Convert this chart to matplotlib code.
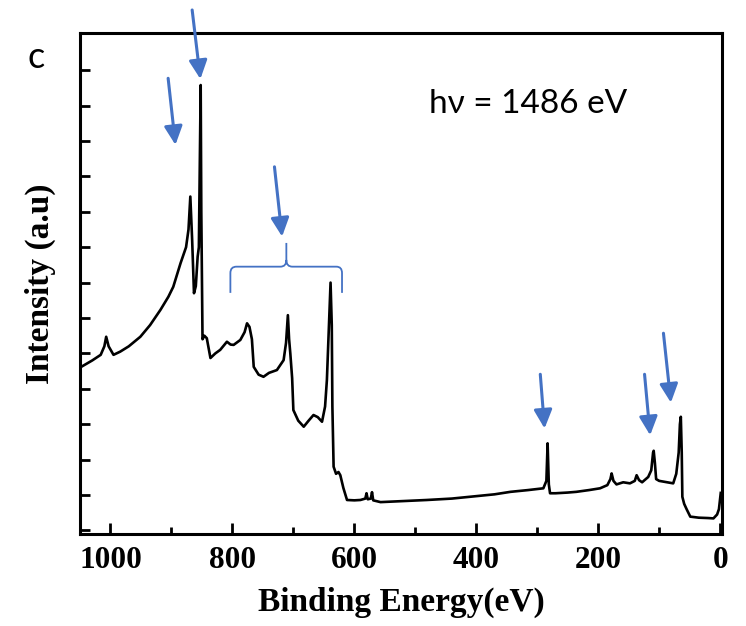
import matplotlib
matplotlib.use("Agg")
import matplotlib.pyplot as plt
from matplotlib.path import Path
from matplotlib.patches import PathPatch

# XPS survey spectrum (binding energy in eV, intensity in arbitrary units)
binding_energy = [1049, 1030, 1016, 1010, 1007, 1003, 995, 984, 970, 951, 935, 918,
                  905, 897, 885, 876, 872, 869, 866, 863, 860, 857, 855, 853, 852,
                  851, 849, 846, 842, 836, 828, 820, 809, 803, 798, 787, 780, 776,
                  772, 768, 765, 757, 749, 740, 727, 716, 712, 709, 707, 705, 702,
                  700, 692, 683, 675, 667, 660, 653, 648, 645, 642, 639, 637, 636,
                  634, 630, 626, 623, 618, 612, 600, 590, 582, 580, 578, 573, 571,
                  569, 557, 520, 481, 440, 399, 370, 344, 315, 290, 285, 283, 281,
                  279, 270, 250, 236, 215, 197, 185, 180, 178, 175, 170, 159, 148,
                  140, 137, 133, 128, 118, 113, 110, 109, 107, 105, 100, 87, 77, 72,
                  68, 66, 64.5, 63, 62, 59, 55, 49, 35, 20, 11, 5, 2, 0, -1]
intensity = [4.61, 4.80, 4.96, 5.20, 5.47, 5.20, 4.96, 5.05, 5.20, 5.47, 5.80, 6.23,
             6.60, 6.88, 7.55, 8.00, 8.50, 9.43, 8.20, 6.70, 6.90, 7.73, 8.00, 11.0, 12.58,
             9.00, 5.40, 5.50, 5.43, 4.87, 5.00, 5.10, 5.33, 5.25, 5.24, 5.38, 5.60, 5.85,
             5.75, 5.40, 4.62, 4.40, 4.34, 4.45, 4.53, 4.81, 5.30, 6.08, 5.40, 5.00, 4.30,
             3.40, 3.10, 2.93, 3.10, 3.26, 3.20, 3.07, 3.50, 4.25, 5.60, 7.00, 5.80, 3.50,
             1.80, 1.60, 1.65, 1.56, 1.20, 0.86, 0.85, 0.86, 0.90, 1.05, 0.88, 0.90, 1.08,
             0.85, 0.80, 0.83, 0.86, 0.90, 0.97, 1.02, 1.09, 1.14, 1.19, 1.40, 2.46, 1.30,
             1.05, 1.05, 1.07, 1.09, 1.14, 1.19, 1.28, 1.45, 1.61, 1.40, 1.30, 1.36, 1.33,
             1.40, 1.56, 1.42, 1.36, 1.51, 1.70, 2.20, 2.25, 1.90, 1.45, 1.40, 1.36, 1.33, 1.60,
             2.20, 3.00, 3.21, 2.20, 0.95, 0.75, 0.60, 0.39, 0.36, 0.35, 0.34, 0.45, 0.60, 0.90, 1.06]

# peak markers: (tail, head) pairs
arrows = [((866, 14.7), (852.5, 12.75)),
          ((905.4, 12.77), (893.4, 10.89)),
          ((731, 10.27), (718.5, 8.3)),
          ((295, 4.41), (288, 2.88)),
          ((124, 4.41), (114.8, 2.69)),
          ((93, 5.57), (80.8, 3.61))]

blue = "#4472C4"
serif = "Liberation Serif"

fig = plt.figure(figsize=(7.46, 6.26), dpi=100)
ax = fig.add_axes([0.1072, 0.147, 0.8606, 0.8003])

ax.plot(binding_energy, intensity, color="black", lw=1.9, solid_joinstyle="round")

ax.set_xlim(1050, -3)
ax.set_ylim(-0.1, 14.05)
ax.set_xticks([1000, 800, 600, 400, 200, 0])
ax.set_xticks([900, 700, 500, 300, 100], minor=True)
ax.set_yticks(range(0, 14))
ax.set_yticklabels([])
ax.tick_params(axis="x", which="major", direction="in", length=8, width=2,
               labelsize=22.5, pad=9)
ax.tick_params(axis="x", which="minor", direction="in", length=5, width=2)
ax.tick_params(axis="y", which="major", direction="in", length=7, width=2)
for lbl in ax.get_xticklabels():
    lbl.set_fontfamily(serif)
    lbl.set_fontweight("bold")
for s in ax.spines.values():
    s.set_linewidth(2.2)

ax.set_xlabel("Binding Energy(eV)", fontfamily=serif, fontweight="bold",
              fontsize=24, labelpad=8)
ax.set_ylabel("Intensity (a.u)", fontfamily=serif, fontweight="bold",
              fontsize=24, labelpad=14)

for tail, head in arrows:
    ax.annotate("", xy=head, xytext=tail, annotation_clip=False,
                arrowprops=dict(arrowstyle="-|>,head_length=0.45,head_width=0.22",
                                mutation_scale=25, color=blue, lw=2.2,
                                shrinkA=0, shrinkB=0))

# curly brace over the 600-800 eV region
verts = [(803.3, 6.71), (803.3, 7.27), (803.3, 7.45), (793.4, 7.45),
         (721.3, 7.45), (711.5, 7.45), (711.5, 7.64), (711.5, 8.12),
         (711.5, 7.64), (711.5, 7.45), (701.6, 7.45), (629.5, 7.45),
         (620.2, 7.45), (620.2, 7.27), (620.2, 6.71)]
codes = [Path.MOVETO, Path.LINETO, Path.CURVE3, Path.CURVE3,
         Path.LINETO, Path.CURVE3, Path.CURVE3, Path.LINETO,
         Path.MOVETO, Path.CURVE3, Path.CURVE3, Path.LINETO,
         Path.CURVE3, Path.CURVE3, Path.LINETO]
ax.add_patch(PathPatch(Path(verts, codes), fill=False, edgecolor=blue, lw=1.3))

fig.text(0.708, 0.834, "hν = 1486 eV", ha="center", va="center",
         fontsize=24, fontfamily="Lato")
fig.text(0.048, 0.908, "c", ha="center", va="center", fontsize=26, fontfamily="Lato")

fig.savefig("out.png", dpi=100)
